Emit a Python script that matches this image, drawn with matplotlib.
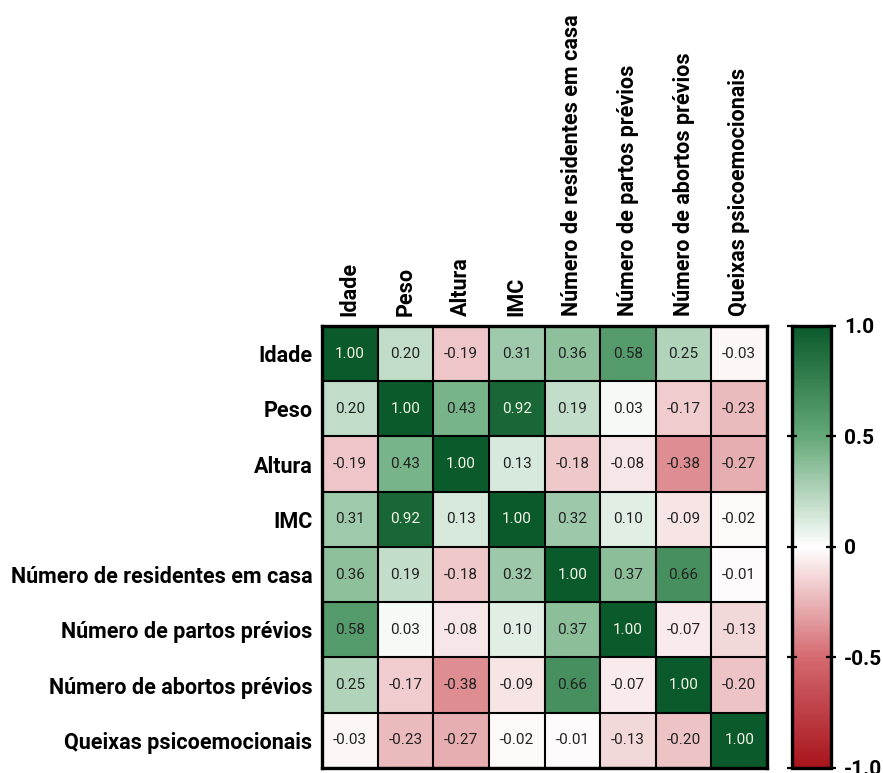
import numpy as np
import matplotlib
matplotlib.use("Agg")
import matplotlib.pyplot as plt
from matplotlib.colors import LinearSegmentedColormap

plt.rcParams["font.family"] = ["Roboto", "DejaVu Sans"]

variables = [
    "Idade",
    "Peso",
    "Altura",
    "IMC",
    "Número de residentes em casa",
    "Número de partos prévios",
    "Número de abortos prévios",
    "Queixas psicoemocionais",
]

row_idade = [1.00, 0.20, -0.19, 0.31, 0.36, 0.58, 0.25, -0.03]
row_peso = [0.20, 1.00, 0.43, 0.92, 0.19, 0.03, -0.17, -0.23]
row_altura = [-0.19, 0.43, 1.00, 0.13, -0.18, -0.08, -0.38, -0.27]
row_imc = [0.31, 0.92, 0.13, 1.00, 0.32, 0.10, -0.09, -0.02]
row_residentes = [0.36, 0.19, -0.18, 0.32, 1.00, 0.37, 0.66, -0.01]
row_partos = [0.58, 0.03, -0.08, 0.10, 0.37, 1.00, -0.07, -0.13]
row_abortos = [0.25, -0.17, -0.38, -0.09, 0.66, -0.07, 1.00, -0.20]
row_queixas = [-0.03, -0.23, -0.27, -0.02, -0.01, -0.13, -0.20, 1.00]

cbar_ticks = [-1.0, -0.5, 0.0, 0.5, 1.0]
cbar_labels = ["-1.0", "-0.5", "0", "0.5", "1.0"]

corr = np.array([
    row_idade, row_peso, row_altura, row_imc,
    row_residentes, row_partos, row_abortos, row_queixas,
])
n = len(variables)

# diverging red -> white -> green, a bit more saturated in the mid range
cmap = LinearSegmentedColormap.from_list(
    "red_white_green",
    [(0.0, "#a8141c"), (0.25, "#d46a70"), (0.5, "#ffffff"),
     (0.75, "#65a978"), (1.0, "#0b5a2b")],
)

fig = plt.figure(figsize=(8.83, 7.73), dpi=100)
ax = fig.add_axes([0.3647, 0.0065, 0.5040, 0.5718])
cax = fig.add_axes([0.8970, 0.0065, 0.0442, 0.5718])

im = ax.imshow(corr, cmap=cmap, vmin=-1, vmax=1, aspect="auto")

# cell values
for i in range(n):
    for j in range(n):
        v = corr[i, j]
        color = "#f4f7e8" if v > 0.8 else "#222222"
        ax.text(j, i, f"{v:.2f}", ha="center", va="center",
                fontsize=11, color=color)

# black grid between cells
ax.set_xticks(np.arange(-0.5, n, 1), minor=True)
ax.set_yticks(np.arange(-0.5, n, 1), minor=True)
ax.grid(which="minor", color="black", linewidth=1.5)
ax.tick_params(which="minor", length=0)

ax.set_xticks(np.arange(n))
ax.set_yticks(np.arange(n))
ax.set_xticklabels(variables, rotation=90, fontsize=15.5, fontweight="bold")
ax.set_yticklabels(variables, fontsize=15.5, fontweight="bold")
ax.xaxis.tick_top()
ax.tick_params(which="major", length=0, pad=7)
for spine in ax.spines.values():
    spine.set_linewidth(2.4)

cb = fig.colorbar(im, cax=cax)
cb.set_ticks(cbar_ticks)
cb.set_ticklabels(cbar_labels)
cb.outline.set_linewidth(2.4)
cax.tick_params(axis="y", direction="inout", length=7, width=1.6,
                left=True, right=True, labelsize=15, pad=6)
for lbl in cax.get_yticklabels():
    lbl.set_fontweight("bold")

fig.savefig("out.png", dpi=100)
